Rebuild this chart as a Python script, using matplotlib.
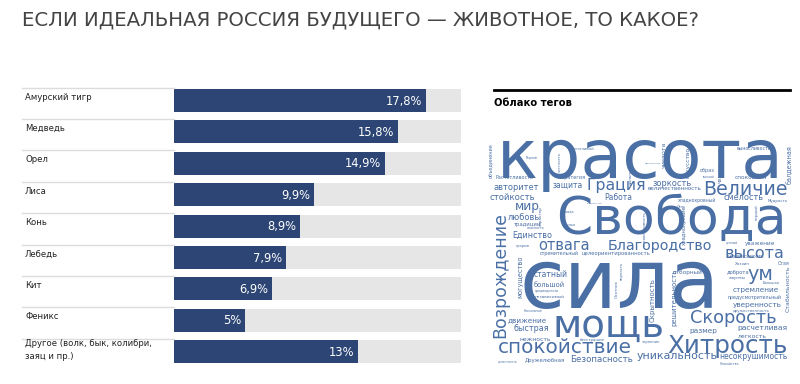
import matplotlib
matplotlib.use("Agg")
import matplotlib.pyplot as plt
from matplotlib.transforms import blended_transform_factory

# --- data ---
animals = ["Амурский тигр", "Медведь", "Орел", "Лиса", "Конь", "Лебедь", "Кит",
           "Феникс", "Другое (волк, бык, колибри,\nзаяц и пр.)"]
shares = [17.8, 15.8, 14.9, 9.9, 8.9, 7.9, 6.9, 5.0, 13.0]
share_labels = ["17,8%", "15,8%", "14,9%", "9,9%", "8,9%", "7,9%", "6,9%", "5%", "13%"]

title = "ЕСЛИ ИДЕАЛЬНАЯ РОССИЯ БУДУЩЕГО — ЖИВОТНОЕ, ТО КАКОЕ?"
cloud_title = "Облако тегов"

# tag cloud words, horizontal and vertical
tags_h = ["красота", "Свобода", "сила", "мощь", "спокойствие", "Хитрость", "Скорость",
          "Величие", "Грация", "Благородство", "высота", "ум", "отвага", "мир",
          "авторитет", "стойкость", "любовь", "Единство", "защита", "зоркость",
          "смелость", "Работа", "уникальность", "несокрушимость", "Безопасность",
          "Дружелюбная", "статный", "большой", "независимый", "движение", "быстрая",
          "нежность", "бесстрашие", "размер", "расчетливая", "легкость", "стремление",
          "уверенность", "предусмотрительный", "отборный", "Расчетливость", "Стратегия",
          "величественность", "спокойная", "Мудрость", "хладнокровный", "выносливость",
          "выносливый", "Родной", "образ", "высокий", "традиции", "независимость",
          "Хозяин", "доброта", "стремительный", "целеориентированность",
          "дружественность", "целостность", "Спокойство", "Уникальный", "предводитель",
          "опасность", "правда", "крылья", "Практичность", "уважение", "ценный",
          "Благосклонный", "Лень", "Большая", "Стая", "жертвы", "терпение", "прорыв"]
tags_v = ["Возрождение", "Стабильность", "Скрытность", "решительность", "могущество",
          "характер", "балдежная", "объединение", "дальновидный", "чистота",
          "человечность", "искусство", "честность", "справедливость", "гордый",
          "хладнокровие", "Охотник", "верность"]

# --- layout (pixels) ---
# horizontal: left, right, baseline
tags_h_box = [(497, 785, 178), (556, 787, 234), (520, 722, 308), (553, 665, 337),
              (498, 632, 353), (667, 787, 353), (690, 777, 323), (703, 788, 195),
              (587, 647, 190), (608, 713, 250), (725, 785, 258), (747, 773, 280),
              (538, 590, 250), (515, 540, 210), (493, 538, 190), (490, 535, 200),
              (508, 540, 220), (512, 552, 238), (553, 583, 188), (653, 692, 186),
              (723, 763, 200), (604, 632, 200), (637, 718, 359), (719, 787, 359),
              (570, 633, 362), (525, 565, 362), (534, 568, 277), (534, 565, 287),
              (535, 565, 298), (508, 547, 322), (513, 548, 331), (520, 552, 341),
              (580, 605, 341), (689, 717, 333), (737, 787, 330), (738, 767, 338),
              (733, 780, 292), (733, 782, 307), (728, 782, 299), (673, 703, 274),
              (495, 533, 179), (559, 586, 179), (648, 702, 190), (735, 767, 179),
              (768, 788, 202), (678, 717, 202), (737, 772, 150), (571, 595, 150),
              (526, 538, 159), (700, 715, 172), (703, 715, 178), (514, 541, 226),
              (728, 765, 258), (735, 750, 265), (727, 750, 274), (540, 580, 255),
              (582, 650, 255), (733, 770, 312), (498, 518, 363), (720, 740, 365),
              (524, 543, 312), (535, 560, 292), (527, 545, 229), (562, 575, 213),
              (562, 576, 226), (645, 662, 164), (745, 775, 245), (726, 738, 245),
              (587, 603, 204), (677, 686, 208), (763, 780, 284), (778, 790, 265),
              (729, 746, 279), (642, 660, 343), (516, 530, 247)]
# vertical: centre x, bottom, top
tags_v_box = [(500, 338, 212), (788, 312, 266), (653, 322, 278), (674, 326, 268),
              (520, 298, 256), (541, 226, 206), (789, 184, 145), (492, 178, 143),
              (631, 185, 150), (664, 168, 142), (720, 183, 145), (688, 178, 147),
              (560, 172, 152), (645, 246, 212), (757, 220, 205), (684, 245, 205),
              (617, 298, 280), (622, 280, 262)]

W, H = 800, 384
navy = "#2c4574"
track = "#e6e6e6"
cloud_blue = "#4a6fa5"
label_font = "DejaVu Sans"

fig = plt.figure(figsize=(W / 100, H / 100), dpi=100)
fig.patch.set_facecolor("white")

# --- bar table ---
full_scale = 20.27
ax = fig.add_axes([174 / W, 1 - 367.4 / H, 287 / W, 282.6 / H])
rows = list(range(len(animals)))
ax.barh(rows, [full_scale] * len(rows), height=0.73, color=track, zorder=1)
ax.barh(rows, shares, height=0.73, color=navy, zorder=2)
ax.set_xlim(0, full_scale)
ax.set_ylim(len(rows) - 0.5, -0.5)
ax.axis("off")

blend = blended_transform_factory(fig.transFigure, ax.transData)
for i, (name, val, lab) in enumerate(zip(animals, shares, share_labels)):
    ax.text(val - 0.25, i + 0.02, lab, ha="right", va="center", color="white",
            fontsize=8.3, family=label_font)
    ax.plot([22 / W, 174 / W], [i - 0.41, i - 0.41], transform=blend, color="#dcdcdc",
            lw=1, clip_on=False)
    y_lab = i - 0.05 if "\n" in name else i - 0.11
    fig.text(25 / W, y_lab, name, transform=blend, ha="left", va="center",
             fontsize=6.1, color="#222222", family=label_font, linespacing=1.6)

fig.text(22 / W, 1 - 20 / H, title, ha="left", va="center", fontsize=14.2,
         color="#444444", family=label_font)

# --- tag cloud ---
fig.add_artist(plt.Line2D([494 / W, 790 / W], [1 - 90 / H, 1 - 90 / H], color="black", lw=2))
fig.text(494 / W, 1 - 103 / H, cloud_title, ha="left", va="center", fontsize=7.2,
         fontweight="bold", color="black", family=label_font)

cax = fig.add_axes([0, 0, 1, 1])
cax.set_xlim(0, W)
cax.set_ylim(H, 0)
cax.axis("off")
renderer = fig.canvas.get_renderer()

for word, (x0, x1, base) in zip(tags_h, tags_h_box):
    t = cax.text(x0, base, word, ha="left", va="baseline", fontsize=10,
                 color=cloud_blue, family="DejaVu Sans")
    w = t.get_window_extent(renderer).width
    t.set_fontsize(10 * (x1 - x0) / w)

for word, (xc, yb, yt) in zip(tags_v, tags_v_box):
    t = cax.text(xc, (yb + yt) / 2, word, ha="center", va="center", rotation=90,
                 fontsize=10, color=cloud_blue, family="DejaVu Sans")
    h = t.get_window_extent(renderer).height
    t.set_fontsize(10 * abs(yb - yt) / h)

fig.savefig("out.png", dpi=100)
